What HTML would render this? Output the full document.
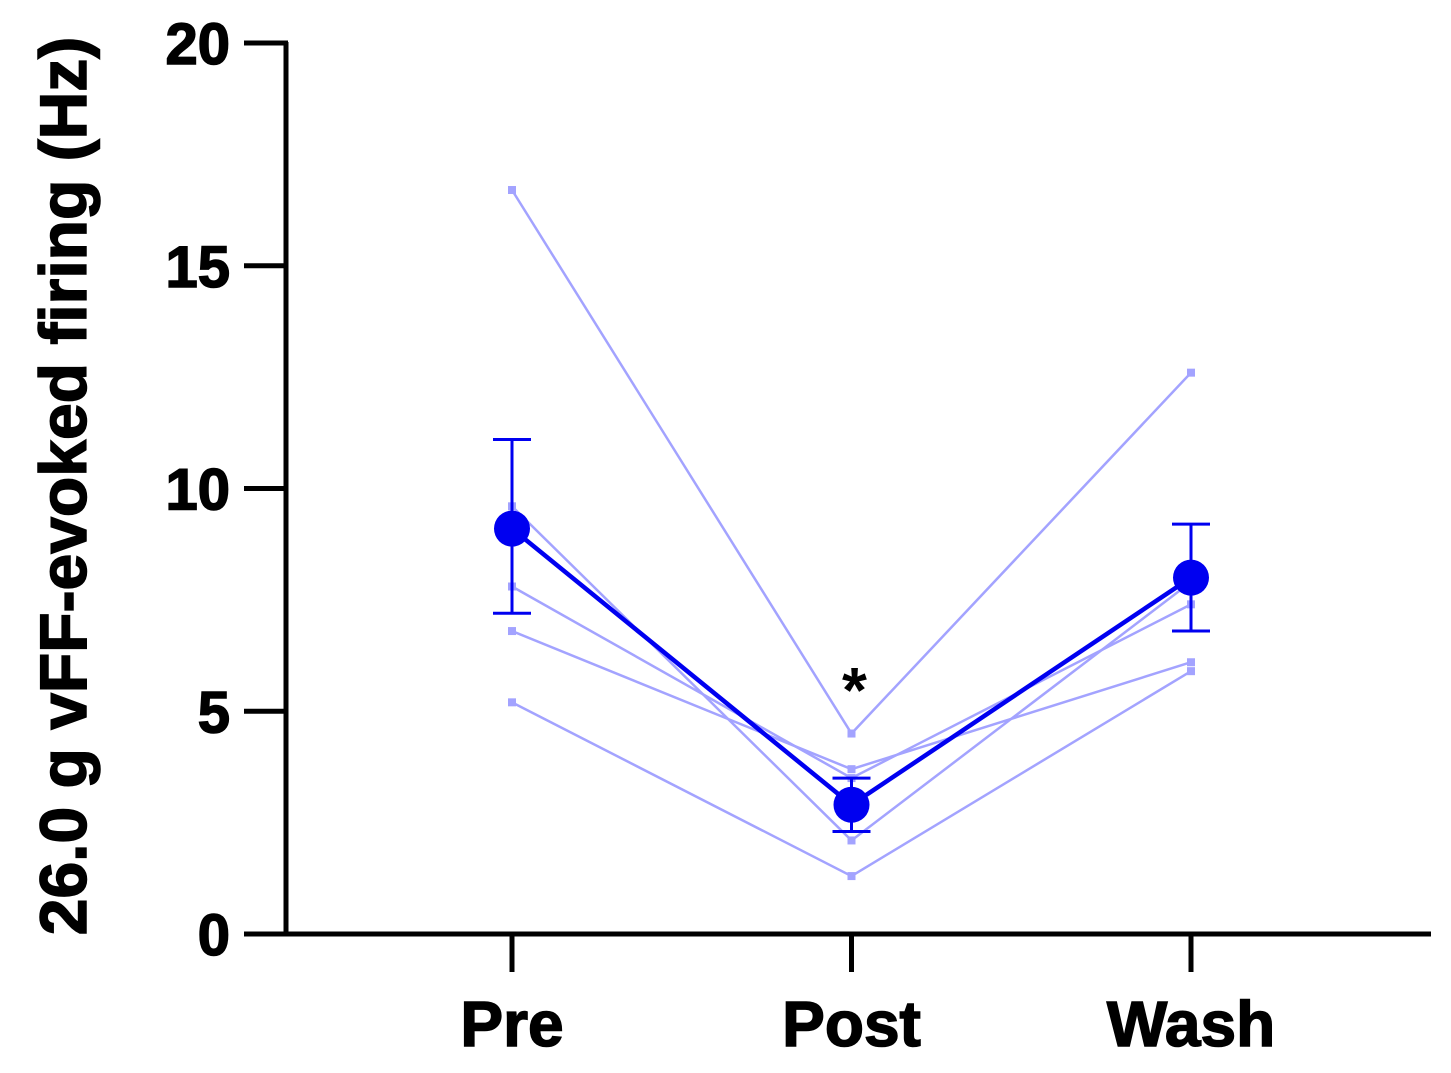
<!DOCTYPE html>
<html><head><meta charset="utf-8"><style>
body{margin:0;background:#fff;}
svg{display:block;font-family:"Liberation Sans",Arial,sans-serif;font-weight:bold;}
</style></head><body>
<svg id="chart" width="1451" height="1073">
<g id="axes"></g><g id="marks"></g>
</svg>
<script>
const categories = ["Pre","Post","Wash"];
const subject1 = [16.7, 4.5, 12.6];
const subject2 = [9.6, 2.1, 7.9];
const subject3 = [7.8, 3.5, 7.4];
const subject4 = [6.8, 3.7, 6.1];
const subject5 = [5.2, 1.3, 5.9];
const meanValues = [9.1, 2.9, 8.0];
const errUpper = [11.1, 3.5, 9.2];
const errLower = [7.2, 2.3, 6.8];
const yTicks = [0, 5, 10, 15, 20];

const NS = "http://www.w3.org/2000/svg";
const X0 = 512, XSTEP = 339.5;
const xS = i => X0 + i * XSTEP;
const yS = v => 934 - v * 44.55;
function mk(tag, attrs, parent, text){
  const e = document.createElementNS(NS, tag);
  for (const k in attrs) e.setAttribute(k, attrs[k]);
  if (text !== undefined) e.textContent = text;
  parent.appendChild(e); return e;
}
const axes = document.getElementById('axes');
const marks = document.getElementById('marks');

let e = mk('line',{x1:286,y1:42,x2:286,y2:936,stroke:'#000','stroke-width':5},axes);


e = mk('line',{x1:284,y1:934,x2:1431,y2:934,stroke:'#000','stroke-width':5},axes);


yTicks.forEach(t=>{
  const l = mk('line',{x1:244,y1:yS(t),x2:288,y2:yS(t),stroke:'#000','stroke-width':5},axes);
  
  
  const tx = mk('text',{x:230,y:yS(t)+21,'text-anchor':'end','font-size':58,'stroke':'#000','stroke-width':1.5},axes,String(t));
  
  
});
categories.forEach((c,i)=>{
  const l = mk('line',{x1:xS(i),y1:934,x2:xS(i),y2:972,stroke:'#000','stroke-width':5},axes);
  
  
  const tx = mk('text',{x:xS(i),y:1046,'text-anchor':'middle','font-size':64,'stroke':'#000','stroke-width':1.5},axes,c);
  
  
});
e = mk('text',{x:0,y:0,transform:'translate(86,486) rotate(-90)','text-anchor':'middle','font-size':66,'stroke':'#000','stroke-width':1.5},axes,'26.0 g vFF-evoked firing (Hz)');



[subject1,subject2,subject3,subject4,subject5].forEach(s=>{
  const pts = s.map((v,i)=>xS(i)+','+yS(v)).join(' ');
  const p = mk('polyline',{points:pts,fill:'none',stroke:'#a3a3ff','stroke-width':2.5},marks);
  
  
  s.forEach((v,i)=>{
    const r = mk('rect',{x:xS(i)-4,y:yS(v)-4,width:8,height:8,fill:'#a3a3ff'},marks);
    
    
  });
});
meanValues.forEach((v,i)=>{
  const g = mk('g',{},marks);
  
  
  mk('line',{x1:xS(i),y1:yS(errUpper[i]),x2:xS(i),y2:yS(errLower[i]),stroke:'#0000f0','stroke-width':3},g);
  mk('line',{x1:xS(i)-19,y1:yS(errUpper[i]),x2:xS(i)+19,y2:yS(errUpper[i]),stroke:'#0000f0','stroke-width':3},g);
  mk('line',{x1:xS(i)-19,y1:yS(errLower[i]),x2:xS(i)+19,y2:yS(errLower[i]),stroke:'#0000f0','stroke-width':3},g);
});
e = mk('polyline',{points:meanValues.map((v,i)=>xS(i)+','+yS(v)).join(' '),fill:'none',stroke:'#0000f0','stroke-width':4.5},marks);


meanValues.forEach((v,i)=>{
  const c = mk('circle',{cx:xS(i),cy:yS(v),r:18,fill:'#0000f0'},marks);
  
  
});
e = mk('text',{x:xS(1)+3,y:712,'text-anchor':'middle','font-size':64},marks,'*');


</script>
</body></html>
